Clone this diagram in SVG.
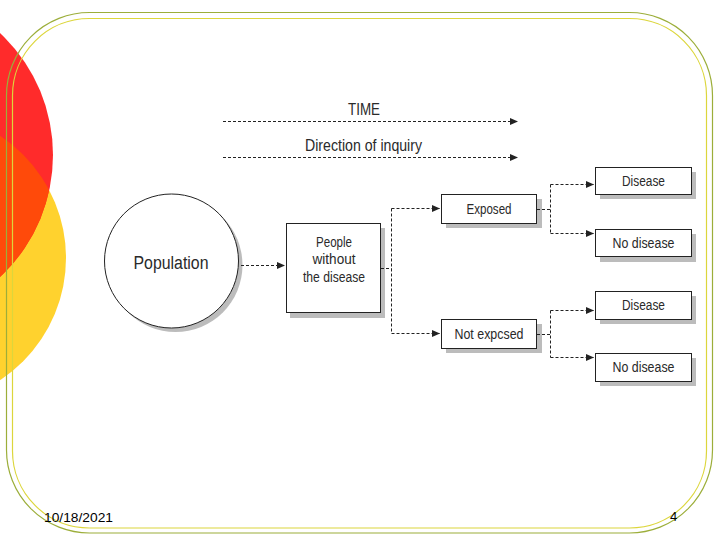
<svg xmlns="http://www.w3.org/2000/svg" width="720" height="540" viewBox="0 0 720 540">
<defs>
<marker id="ah" markerUnits="userSpaceOnUse" markerWidth="9" markerHeight="8" refX="8" refY="3.5" orient="auto"><path d="M0,0 L8,3.5 L0,7 z" fill="#222"/></marker>
<clipPath id="redclip"><circle cx="-114" cy="155" r="167"/></clipPath>
<style>
.lbl{font-family:"Liberation Sans","DejaVu Sans",sans-serif;fill:#2a2a2a;text-anchor:middle}
.box{fill:#fff;stroke:#222;stroke-width:1}
.sh{fill:#bcbcbc}
.con{fill:none;stroke:#222;stroke-width:1;stroke-dasharray:3,2}
.foot{font-family:"Liberation Sans","DejaVu Sans",sans-serif;font-size:13px;fill:#000}
</style>
</defs>
<rect width="720" height="540" fill="#fff"/>
<g id="decor">
<circle cx="-80" cy="258" r="146" fill="#ffd22e"/>
<circle cx="-114" cy="155" r="167" fill="#ff2b2b"/>
<circle cx="-80" cy="258" r="146" fill="#ff4a0a" clip-path="url(#redclip)"/>
<rect x="6.5" y="12.5" width="706" height="520.5" rx="83" ry="83" fill="none" stroke="#9cae3a" stroke-width="1.2"/>
<rect x="12.5" y="18.5" width="694" height="509.5" rx="77" ry="77" fill="none" stroke="#dcd63c" stroke-width="1.2"/>
</g>
<g id="time">
<text class="lbl" x="364" y="115" font-size="17" textLength="32" lengthAdjust="spacingAndGlyphs">TIME</text>
</g>
<g id="direction">
<text class="lbl" x="363.5" y="151" font-size="17" textLength="117" lengthAdjust="spacingAndGlyphs">Direction of inquiry</text>
</g>
<g id="population">
<circle cx="175.5" cy="265" r="67" class="sh"/>
<circle cx="171.5" cy="261" r="67" fill="#fff" stroke="#222" stroke-width="1"/>
<text class="lbl" x="171" y="269" font-size="18" textLength="75" lengthAdjust="spacingAndGlyphs">Population</text>
</g>
<g id="people">
<rect x="290" y="228" width="95" height="90" class="sh"/>
<rect x="286.5" y="223.5" width="94" height="89" class="box"/>
<text class="lbl" x="334" y="247" font-size="14" textLength="36" lengthAdjust="spacingAndGlyphs">People</text>
<text class="lbl" x="334" y="264" font-size="14" textLength="43" lengthAdjust="spacingAndGlyphs">without</text>
<text class="lbl" x="334" y="282" font-size="14" textLength="62" lengthAdjust="spacingAndGlyphs">the disease</text>
</g>
<g id="exposed">
<rect x="446" y="199" width="96" height="29" class="sh"/>
<rect x="441.5" y="194.5" width="95" height="29" class="box"/>
<text class="lbl" x="489" y="214" font-size="14" textLength="45" lengthAdjust="spacingAndGlyphs">Exposed</text>
</g>
<g id="notexposed">
<rect x="446" y="324" width="96" height="29" class="sh"/>
<rect x="441.5" y="319.5" width="95" height="29" class="box"/>
<text class="lbl" x="489" y="339" font-size="14" textLength="69" lengthAdjust="spacingAndGlyphs">Not expcsed</text>
</g>
<g id="disease1">
<rect x="600" y="172" width="96" height="27" class="sh"/>
<rect x="595.5" y="167.5" width="96" height="27" class="box"/>
<text class="lbl" x="643.5" y="186" font-size="14" textLength="43" lengthAdjust="spacingAndGlyphs">Disease</text>
</g>
<g id="nodisease1">
<rect x="600" y="234" width="96" height="28" class="sh"/>
<rect x="595.5" y="229.5" width="96" height="27" class="box"/>
<text class="lbl" x="643.5" y="248" font-size="14" textLength="62" lengthAdjust="spacingAndGlyphs">No disease</text>
</g>
<g id="disease2">
<rect x="600" y="296" width="96" height="28" class="sh"/>
<rect x="595.5" y="291.5" width="96" height="28" class="box"/>
<text class="lbl" x="643.5" y="310" font-size="14" textLength="43" lengthAdjust="spacingAndGlyphs">Disease</text>
</g>
<g id="nodisease2">
<rect x="600" y="358" width="96" height="28" class="sh"/>
<rect x="595.5" y="353.5" width="96" height="28" class="box"/>
<text class="lbl" x="643.5" y="372" font-size="14" textLength="62" lengthAdjust="spacingAndGlyphs">No disease</text>
</g>
<g id="connectors">
<path class="con" d="M223,121.5 H518" marker-end="url(#ah)"/>
<path class="con" d="M223,157.5 H518" marker-end="url(#ah)"/>
<path class="con" d="M241,265.5 H285" marker-end="url(#ah)"/>
<path class="con" d="M381,268.5 H391.5"/>
<path class="con" d="M391.5,208.5 V333.5"/>
<path class="con" d="M391.5,208.5 H440" marker-end="url(#ah)"/>
<path class="con" d="M391.5,333.5 H440" marker-end="url(#ah)"/>
<path class="con" d="M537,209.5 H550.5"/>
<path class="con" d="M550.5,184.5 V233.5"/>
<path class="con" d="M550.5,184.5 H594" marker-end="url(#ah)"/>
<path class="con" d="M550.5,233.5 H594" marker-end="url(#ah)"/>
<path class="con" d="M537,334.5 H550.5"/>
<path class="con" d="M550.5,310.5 V357.5"/>
<path class="con" d="M550.5,310.5 H594" marker-end="url(#ah)"/>
<path class="con" d="M550.5,357.5 H594" marker-end="url(#ah)"/>
</g>
<g id="footer">
<text class="foot" x="44" y="522" textLength="69" lengthAdjust="spacingAndGlyphs">10/18/2021</text>
<text class="foot" x="670" y="521">4</text>
</g>
</svg>
